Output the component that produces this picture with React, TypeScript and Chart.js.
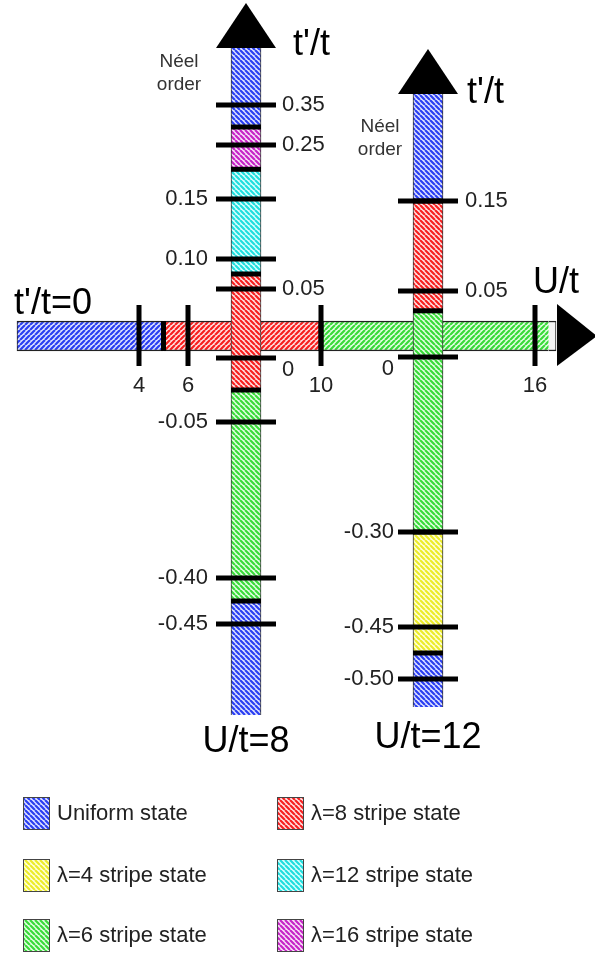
import React, { useEffect, useRef } from 'react';
import { Chart, registerables, LinearScale } from 'chart.js';

// ---------------- data ----------------
const U_TICKS = [4, 6, 10, 16];
const U_TICK_LABELS = ['4', '6', '10', '16'];
const ROW_TPRIME = 0; // the horizontal bar is the t'/t = 0 line
const ROW_BOUNDS = [0, 5, 10, 16.65, 17];
const ROW_PHASES = ['uniform', 'l8', 'l6', 'blank'];

const COL8_U = 8;
const COL8_BOUNDS = [0.5, 0.295, 0.205, 0.075, -0.025, -0.425, -0.55];
const COL8_PHASES = ['uniform', 'l16', 'l12', 'l8', 'l6', 'uniform'];
const COL8_TICKS = [0.35, 0.25, 0.15, 0.1, 0.05, 0, -0.05, -0.4, -0.45];
const COL8_TICK_LABELS = ['0.35', '0.25', '0.15', '0.10', '0.05', '0', '-0.05', '-0.40', '-0.45'];

const COL12_U = 12;
const COL12_BOUNDS = [0.27, 0.15, 0.035, -0.3, -0.475, -0.55];
const COL12_PHASES = ['uniform', 'l8', 'l6', 'l4', 'uniform'];
const COL12_TICKS = [0.15, 0.05, 0, -0.3, -0.45, -0.5];
const COL12_TICK_LABELS = ['0.15', '0.05', '0', '-0.30', '-0.45', '-0.50'];

const LEGEND_KEYS = ['uniform', 'l4', 'l6', 'l8', 'l12', 'l16'];
const LEGEND_LABELS = [
  'Uniform state',
  'λ=4 stripe state',
  'λ=6 stripe state',
  'λ=8 stripe state',
  'λ=12 stripe state',
  'λ=16 stripe state',
];

// ---------------- styles / layout ----------------
const PHASE_STYLE: Record<string, { line: string; bg: string }> = {
  uniform: { line: '#2a3ef2', bg: '#dfe3ff' },
  l8: { line: '#f72020', bg: '#ffe3e3' },
  l6: { line: '#3ada3a', bg: '#e4ffe4' },
  l4: { line: '#ecec2a', bg: '#ffffdc' },
  l12: { line: '#1fdede', bg: '#dcffff' },
  l16: { line: '#c624c6', bg: '#f9e2f9' },
};

// schematic (non-linear) axis mappings: [value, pixel offset in chart area]
const U_KNOTS = [[0, 17], [4, 139], [6, 188], [8, 246], [10, 321], [12, 428], [16, 535], [17, 556]];
const KNOTS: Record<string, number[][]> = {
  xH: U_KNOTS,
  x8: U_KNOTS,
  x12: U_KNOTS,
  yH: [[-1, 672], [1, 0]],
  y8: [[-0.55, 715], [-0.45, 624], [-0.4, 578], [-0.05, 422], [0, 358], [0.05, 289], [0.1, 259], [0.15, 199], [0.25, 145], [0.35, 105], [0.5, 47]],
  y12: [[-0.55, 707], [-0.5, 679], [-0.45, 627], [-0.3, 532], [0, 357], [0.05, 291], [0.15, 201], [0.27, 93]],
};
const COL8_SIDES = ['r', 'r', 'l', 'l', 'r', 'r', 'l', 'l', 'l'];
const COL12_SIDES = ['r', 'r', 'l', 'l', 'l', 'l'];

const FONT = '"Liberation Sans", Arial, sans-serif';

class PiecewiseScale extends LinearScale {
  static id = 'piecewise';
  mapValue(value: number): number {
    const k = KNOTS[(this as any).id];
    let i = 0;
    if (value >= k[k.length - 1][0]) i = k.length - 2;
    else if (value > k[0][0]) {
      while (i < k.length - 2 && value > k[i + 1][0]) i++;
    }
    const [v0, p0] = k[i];
    const [v1, p1] = k[i + 1];
    return p0 + ((value - v0) * (p1 - p0)) / (v1 - v0);
  }
  getPixelForValue(value: number): number {
    const origin = this.isHorizontal() ? this.left : this.top;
    return origin + this.mapValue(value);
  }
  getValueForPixel(pixel: number): number {
    const k = KNOTS[(this as any).id];
    const p = pixel - (this.isHorizontal() ? this.left : this.top);
    for (let i = 0; i < k.length - 1; i++) {
      const [v0, p0] = k[i];
      const [v1, p1] = k[i + 1];
      const lo = Math.min(p0, p1), hi = Math.max(p0, p1);
      if (p >= lo && p <= hi) return v0 + ((p - p0) * (v1 - v0)) / (p1 - p0);
    }
    return k[0][0];
  }
}

Chart.register(...registerables, PiecewiseScale);

function hatch(style: { line: string; bg: string }, dir: 'back' | 'fwd') {
  const s = 5;
  const c = document.createElement('canvas');
  c.width = s;
  c.height = s;
  const g = c.getContext('2d')!;
  g.fillStyle = style.bg;
  g.fillRect(0, 0, s, s);
  g.strokeStyle = style.line;
  g.lineWidth = 2.2;
  g.beginPath();
  for (const o of [-s, 0, s]) {
    if (dir === 'back') {
      g.moveTo(o, 0);
      g.lineTo(o + s, s);
    } else {
      g.moveTo(o, s);
      g.lineTo(o + s, 0);
    }
  }
  g.stroke();
  return g.createPattern(c, 'repeat')!;
}

export default function App() {
  const ref = useRef<HTMLCanvasElement>(null);

  useEffect(() => {
    document.body.style.margin = '0';
    const canvas = ref.current!;
    const patV: Record<string, any> = {};
    const patH: Record<string, any> = {};
    Object.keys(PHASE_STYLE).forEach((k) => {
      patV[k] = hatch(PHASE_STYLE[k], 'back');
      patH[k] = hatch(PHASE_STYLE[k], 'fwd');
    });
    patV.blank = '#f3f3f3';
    patH.blank = '#f3f3f3';

    const colData = (u: number, bounds: number[]) =>
      bounds.slice(0, -1).map((b, i) => ({ x: u, y: [bounds[i + 1], b] }));
    const rowData = ROW_BOUNDS.slice(0, -1).map((b, i) => ({ y: ROW_TPRIME, x: [b, ROW_BOUNDS[i + 1]] }));

    const decor = {
      id: 'decor',
      afterDatasetsDraw(chart: any) {
        const ctx: CanvasRenderingContext2D = chart.ctx;
        const { xH, yH, x8, y8, x12, y12 } = chart.scales;
        const rowY = yH.getPixelForValue(ROW_TPRIME);
        const cx8 = x8.getPixelForValue(COL8_U);
        const cx12 = x12.getPixelForValue(COL12_U);
        ctx.save();
        ctx.fillStyle = '#000';

        // phase boundaries on the row
        for (let i = 1; i < ROW_PHASES.length; i++) {
          if (ROW_PHASES[i] === 'blank' || ROW_PHASES[i - 1] === 'blank') continue;
          const x = xH.getPixelForValue(ROW_BOUNDS[i]);
          ctx.fillRect(x - 2.5, rowY - 15, 5, 30);
        }
        // U ticks
        U_TICKS.forEach((u) => {
          const x = xH.getPixelForValue(u);
          ctx.fillRect(x - 2.5, rowY - 31, 5, 61);
        });

        // column boundaries and ticks
        const col = (cx: number, ys: any, bounds: number[], ticks: number[]) => {
          for (let i = 1; i < bounds.length - 1; i++) {
            const y = ys.getPixelForValue(bounds[i]);
            ctx.fillRect(cx - 15, y - 2.5, 30, 5);
          }
          ticks.forEach((t) => {
            const y = ys.getPixelForValue(t);
            ctx.fillRect(cx - 30, y - 2.5, 60, 5);
          });
        };
        col(cx8, y8, COL8_BOUNDS, COL8_TICKS);
        col(cx12, y12, COL12_BOUNDS, COL12_TICKS);

        // arrows
        const upArrow = (cx: number, baseY: number, h: number) => {
          ctx.beginPath();
          ctx.moveTo(cx - 30, baseY);
          ctx.lineTo(cx + 30, baseY);
          ctx.lineTo(cx, baseY - h);
          ctx.closePath();
          ctx.fill();
        };
        upArrow(cx8, y8.getPixelForValue(COL8_BOUNDS[0]) + 1, 45);
        upArrow(cx12, y12.getPixelForValue(COL12_BOUNDS[0]) + 1, 45);
        const ax = xH.getPixelForValue(ROW_BOUNDS[ROW_BOUNDS.length - 1]) + 1;
        ctx.beginPath();
        ctx.moveTo(ax, rowY - 32);
        ctx.lineTo(ax, rowY + 30);
        ctx.lineTo(ax + 40, rowY);
        ctx.closePath();
        ctx.fill();

        // tick labels
        ctx.font = `22px ${FONT}`;
        ctx.fillStyle = '#222';
        ctx.textBaseline = 'middle';
        const labels = (cx: number, ys: any, ticks: number[], lbls: string[], sides: string[], rOff: number, lOff: number) => {
          ticks.forEach((t, i) => {
            let y = ys.getPixelForValue(t);
            if (t === 0) y += 12;
            if (sides[i] === 'r') {
              ctx.textAlign = 'left';
              ctx.fillText(lbls[i], cx + rOff, y);
            } else {
              ctx.textAlign = 'right';
              ctx.fillText(lbls[i], cx - lOff, y);
            }
          });
        };
        labels(cx8, y8, COL8_TICKS, COL8_TICK_LABELS, COL8_SIDES, 36, 38);
        labels(cx12, y12, COL12_TICKS, COL12_TICK_LABELS, COL12_SIDES, 37, 34);
        ctx.textAlign = 'center';
        U_TICKS.forEach((u, i) => {
          ctx.fillText(U_TICK_LABELS[i], xH.getPixelForValue(u), rowY + 50);
        });

        // Néel order
        ctx.font = `19px ${FONT}`;
        ctx.fillStyle = '#333';
        ctx.fillText('Néel', cx8 - 67, 62);
        ctx.fillText('order', cx8 - 67, 85);
        ctx.fillText('Néel', cx12 - 48, 127);
        ctx.fillText('order', cx12 - 48, 150);

        // big axis labels
        ctx.font = `36px ${FONT}`;
        ctx.fillStyle = '#000';
        ctx.textBaseline = 'alphabetic';
        ctx.textAlign = 'left';
        ctx.fillText("t'/t", cx8 + 47, 55);
        ctx.fillText("t'/t", cx12 + 39, 103);
        ctx.fillText('U/t', 533, rowY - 43);
        ctx.fillText("t'/t=0", 14, rowY - 22);
        ctx.textAlign = 'center';
        ctx.fillText('U/t=8', cx8, y8.getPixelForValue(COL8_BOUNDS[COL8_BOUNDS.length - 1]) + 37);
        ctx.fillText('U/t=12', cx12, y12.getPixelForValue(COL12_BOUNDS[COL12_BOUNDS.length - 1]) + 41);

        // legend (two columns, three rows)
        const rowsY = [813, 875, 935];
        const colsX = [23, 277];
        ctx.font = `22px ${FONT}`;
        ctx.textBaseline = 'middle';
        ctx.textAlign = 'left';
        LEGEND_KEYS.forEach((k, i) => {
          const cx = colsX[Math.floor(i / 3)];
          const cy = rowsY[i % 3];
          ctx.fillStyle = patV[k];
          ctx.fillRect(cx, cy - 16, 27, 33);
          ctx.strokeStyle = '#444';
          ctx.lineWidth = 1;
          ctx.strokeRect(cx + 0.5, cy - 15.5, 26, 32);
          ctx.fillStyle = '#222';
          ctx.fillText(LEGEND_LABELS[i], cx + 34, cy + 1);
        });
        ctx.restore();
      },
    };

    const hidden = (axis: string) => ({ type: 'piecewise', axis, display: false, grid: { display: false } });

    const chart = new Chart(canvas, {
      type: 'bar',
      data: {
        datasets: [
          {
            data: colData(COL8_U, COL8_BOUNDS) as any,
            xAxisID: 'x8',
            yAxisID: 'y8',
            indexAxis: 'x',
            grouped: false,
            barThickness: 30,
            backgroundColor: COL8_PHASES.map((p) => patV[p]),
            borderColor: '#333',
            borderWidth: { left: 1, right: 1, top: 0, bottom: 0 },
            borderSkipped: false,
            order: 0,
          } as any,
          {
            data: colData(COL12_U, COL12_BOUNDS) as any,
            xAxisID: 'x12',
            yAxisID: 'y12',
            indexAxis: 'x',
            grouped: false,
            barThickness: 30,
            backgroundColor: COL12_PHASES.map((p) => patV[p]),
            borderColor: '#333',
            borderWidth: { left: 1, right: 1, top: 0, bottom: 0 },
            borderSkipped: false,
            order: 0,
          } as any,
          {
            data: rowData as any,
            xAxisID: 'xH',
            yAxisID: 'yH',
            indexAxis: 'y',
            grouped: false,
            barThickness: 30,
            backgroundColor: ROW_PHASES.map((p) => patH[p]),
            borderColor: '#222',
            borderWidth: (c: any) => ({
              top: 1.5,
              bottom: 1.5,
              left: c.dataIndex === 0 ? 1 : 0,
              right: c.dataIndex === ROW_PHASES.length - 1 ? 1 : 0,
            }),
            borderSkipped: false,
            order: 1,
          } as any,
        ],
      },
      options: {
        animation: false,
        responsive: false,
        devicePixelRatio: 1,
        events: [],
        layout: { padding: 0 },
        plugins: { legend: { display: false }, tooltip: { enabled: false } },
        scales: {
          xH: hidden('x'),
          x8: hidden('x'),
          x12: hidden('x'),
          yH: hidden('y'),
          y8: hidden('y'),
          y12: hidden('y'),
        } as any,
      },
      plugins: [decor],
    });
    return () => chart.destroy();
  }, []);

  return <canvas ref={ref} width={595} height={955} style={{ display: 'block' }} />;
}
